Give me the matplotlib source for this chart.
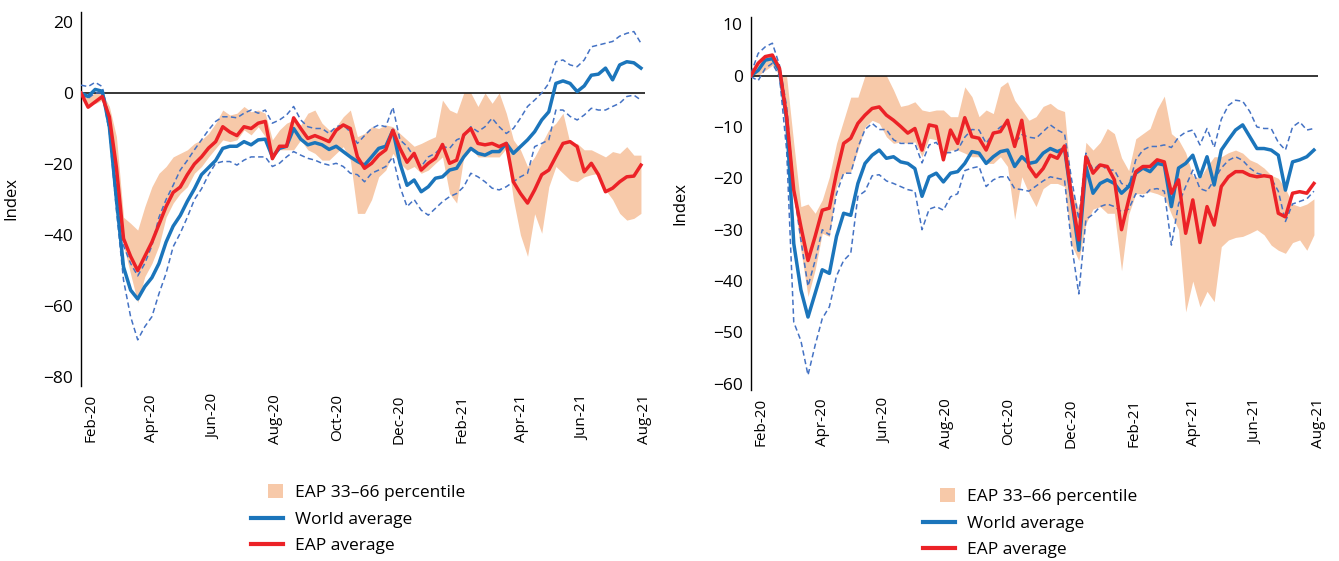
import pandas as pd
import matplotlib
matplotlib.use("Agg")
import matplotlib.pyplot as plt
import matplotlib.patches as mpatches
from matplotlib.legend_handler import HandlerPatch
from matplotlib.lines import Line2D

plt.rcParams["font.family"] = ["Open Sans", "DejaVu Sans"]

# weekly points from mid-Feb 2020
DATES = pd.date_range("2020-02-15", periods=80, freq="7D")
TICKS = pd.date_range("2020-02-25", periods=10, freq=pd.DateOffset(months=2))
TICK_LABELS = [d.strftime("%b-%y") for d in TICKS]

# ---- left panel ----
LEFT_WORLD = [0, -1, 1, 0.5, -9.5, -30, -49, -55.5, -58, -54.5,
              -52, -48, -42, -37.5, -34.5, -30.5, -27, -23, -21, -19,
              -15.6, -15, -15, -13.7, -14.6, -13.2, -13, -18, -15.6, -15,
              -10, -13, -14.6, -14, -14.6, -15.9, -15, -16.5, -18, -19.3,
              -20.3, -18, -15.6, -15, -10.5, -19.8, -26, -24.5, -27.8, -26.4,
              -24, -23.6, -21.7, -21.2, -18, -15.6, -17, -17.5, -16.5, -16.5,
              -14.2, -17, -15.1, -13.2, -10.9, -7.6, -5.3, 2.7, 3.4, 2.7,
              0.4, 2, 5, 5.3, 7, 3.7, 7.9, 8.8, 8.5, 7]
LEFT_EAP = [0, -4, -2.5, -1, -6.7, -21, -41, -46, -50, -46,
            -42, -37, -32, -28, -26.5, -23, -20, -18, -15.5, -13.7,
            -9.5, -11, -12, -9.5, -10, -8.5, -8, -18.5, -15, -15,
            -7, -10, -12.8, -12, -12.8, -13.7, -10.5, -9, -10, -18,
            -21.2, -19.8, -17.5, -16, -10.5, -15.6, -19.5, -17, -21.7, -19.8,
            -18.4, -14.5, -19.8, -18.9, -11.8, -10, -14.2, -14.6, -14.2, -15.1,
            -14.2, -25, -28.3, -31, -27.3, -23, -21.7, -17.9, -14.2, -13.7,
            -15.1, -22.2, -19.8, -23, -27.8, -26.8, -25, -23.6, -23.4, -20.3]
LEFT_WORLD_HI = [2.2, 1.8, 3, 1.8, -7.6, -26, -43, -48, -51.5, -48,
                 -43, -35, -30, -26, -21.7, -19, -16, -13.2, -10.4, -8,
                 -6.7, -6.7, -7, -5.7, -4.8, -5.7, -4.8, -8.5, -7.6, -6.2,
                 -3.8, -7.6, -9.5, -10, -10, -11.4, -9.5, -9, -11, -14.2,
                 -12, -10, -9, -9.5, -4, -13.2, -15, -18, -20.7, -18,
                 -17, -15, -15.6, -13.2, -12.3, -9.5, -10.9, -9.5, -7.1, -9.5,
                 -11.4, -10, -7.1, -3.8, -2, 0, 2.7, 8.8, 9.3, 7.9,
                 7.4, 9.3, 13, 13.5, 14, 14.5, 16, 16.8, 17.3, 14]
LEFT_WORLD_LO = [-0.5, -1.5, 0, 0, -11, -33, -52.7, -63, -69.5, -65.8,
                 -63, -56.5, -50.8, -43.3, -39.5, -35, -30, -27, -23, -19.8,
                 -19.3, -19.3, -20.3, -18.9, -18, -18, -18, -20.7, -19.8, -18,
                 -16.5, -17.5, -18.4, -18.9, -19.8, -20.3, -19.8, -20.7, -22.6, -23,
                 -25, -22.6, -21.7, -20.7, -18, -26.4, -32, -30, -33, -34.4,
                 -32.5, -30.6, -29.2, -28.3, -26.4, -22.6, -23.6, -25, -26.8, -27.3,
                 -26.4, -25, -23.6, -22.6, -15.1, -14.2, -13.2, -4.8, -4.8, -6.6,
                 -7.6, -6.2, -4.3, -4.8, -4.8, -3.8, -2.9, -1, -0.6, -2]
LEFT_BAND_HI = [0, -1, 0, 0, -3.8, -12.3, -35, -36.7, -38.6, -32,
                -26.4, -22.6, -20.7, -18, -17, -16, -14.2, -13.2, -11.4, -8.5,
                -4.8, -6.2, -5.7, -3.8, -5.3, -4.8, -5.7, -13.2, -10.4, -8.5,
                -7.6, -9, -5.7, -4.8, -8.5, -10.4, -9.5, -6.7, -4.8, -12.3,
                -11.4, -9.5, -10, -9, -9.5, -11.4, -13.2, -15, -14.2, -13.2,
                -12.3, -2, -4.8, -5.7, 0, 0, -3.8, 0, -2.9, 0,
                -5.7, -13.2, -16, -20.7, -18, -14.2, -10.4, -8.5, -5.7, -14.2,
                -14.2, -16, -16, -17, -18, -16.5, -17, -15.1, -17.5, -17.5]
LEFT_BAND_LO = [0, -3, -3, -2, -9.5, -26, -43, -51, -59, -51.7,
                -48, -43, -35, -31, -28.3, -26.4, -22.6, -20.7, -18, -15.6,
                -13.2, -13.7, -13.2, -10.4, -11.8, -9.5, -12.3, -18, -16, -16,
                -16, -13.2, -16, -17, -18.9, -18.9, -17, -15.1, -18.9, -33.9,
                -33.9, -30, -23.6, -21.7, -17, -19.8, -21.7, -20.7, -22.6, -21.7,
                -19.8, -18, -28.3, -31, -18, -15, -18, -18, -18, -18,
                -15.6, -30, -40, -46, -34, -39.5, -26.4, -20.7, -22.6, -24.5,
                -25, -23.6, -23, -22.6, -27.3, -30, -33.9, -35.8, -35.3, -33.9]

# ---- right panel ----
RIGHT_WORLD = [0, 1, 3, 3.3, 1, -8.7, -32.7, -41.7, -47, -42.4,
               -37.8, -38.5, -31.3, -26.8, -27.2, -21, -17.1, -15.5, -14.5, -16.1,
               -15.8, -16.8, -17.1, -18.1, -23.5, -19.7, -19, -20.7, -19, -18.7,
               -17.1, -14.8, -15.1, -17.1, -15.8, -14.8, -14.5, -17.7, -15.8, -17.1,
               -16.8, -15.1, -14.2, -14.8, -14.2, -24.2, -34, -17.7, -22.9, -21,
               -20.3, -21, -22.9, -21.6, -19, -18, -18.7, -17.1, -17.4, -25.5,
               -18, -17.1, -15.5, -19.7, -15.8, -21.3, -14.5, -12.5, -10.6, -9.6,
               -11.9, -14.2, -14.2, -14.5, -15.5, -22.3, -16.8, -16.4, -15.8, -14.5]
RIGHT_EAP = [0, 2.4, 3.7, 4, 1.4, -8, -22.3, -29.4, -36, -31.3,
             -26.2, -25.8, -19, -13.2, -12.2, -9.3, -7.7, -6.4, -6.1, -7.7,
             -8.7, -9.9, -11.2, -10.3, -14.5, -9.6, -9.9, -16.4, -10.6, -13.2,
             -8.2, -11.9, -12.2, -14.5, -11.2, -10.9, -8.7, -13.8, -8.7, -17.7,
             -19.7, -18.1, -15.5, -16.1, -13.7, -23.6, -32, -15.8, -19, -17.4,
             -17.7, -20.3, -30, -24.2, -18.7, -17.7, -17.7, -16.4, -16.8, -22.9,
             -20.3, -30.7, -24.2, -32.5, -25.5, -29.1, -21.6, -19.7, -18.7, -18.7,
             -19.4, -19.7, -19.5, -19.7, -26.8, -27.5, -22.9, -22.6, -22.9, -21]
RIGHT_WORLD_HI = [0.4, 4.3, 5.6, 6.3, 2, -6, -22, -32, -41, -36,
                  -30, -31, -23, -19, -19, -14, -10.5, -9.3, -10.5, -10.5,
                  -12.5, -13.2, -13.2, -13.2, -17, -13.5, -13, -15, -15, -14.5,
                  -12, -10.5, -10.6, -13.2, -11.2, -10, -9.3, -13.2, -11.5, -12,
                  -12.2, -10.9, -9.6, -10.6, -11.3, -20.3, -28, -15.1, -18.4, -17.1,
                  -18.4, -18.4, -21, -21.6, -16.4, -14.5, -13.8, -13.8, -13.5, -14,
                  -12, -11, -10.6, -13.5, -10.3, -14, -8.5, -5.8, -4.8, -5,
                  -7, -10, -10.3, -10.3, -13, -14.5, -10, -9, -10.6, -10.3]
RIGHT_WORLD_LO = [-0.2, -1, 1.4, 2.4, -0.2, -14.5, -48, -51.6, -58.3, -52.5,
                  -47.3, -45, -39, -36, -34.6, -23.5, -22.5, -19.5, -19.3, -20.5,
                  -21, -21.6, -22.2, -22.5, -30, -26, -25.5, -26.2, -23.6, -23,
                  -18.5, -18, -17.7, -21.6, -20.3, -19.7, -19.7, -22, -22.2, -22.5,
                  -21.5, -20.5, -19.7, -20, -20.3, -33, -42.5, -28, -27, -25.5,
                  -25, -25.5, -26.5, -26, -23, -23.6, -22.2, -22, -22.5, -33,
                  -25, -21.6, -18.4, -22, -22.5, -20.3, -18, -16.5, -15.8, -16.5,
                  -18, -19, -19.4, -20, -22.5, -28.4, -25, -24.5, -24, -22.5]
RIGHT_BAND_HI = [0, 3, 4, 4, 0, -0.2, -13.2, -25.5, -25, -26.8,
                 -24.2, -19.7, -13.2, -8.7, -4.2, -4.2, 0, 0, 0, 0,
                 -2.8, -6, -5.7, -5.1, -6.7, -7, -6.7, -6.7, -8, -8,
                 -2.2, -4.1, -8, -6.7, -7.4, -2.2, -1.2, -4.8, -6.7, -8.7,
                 -8, -6, -5.4, -6.5, -7, -22, -26, -13, -14.5, -13,
                 -10.3, -11.3, -16, -18.5, -12.3, -11.3, -10.3, -6.5, -4, -11.3,
                 -12.5, -15, -19.5, -20, -17.7, -15.8, -15.8, -15, -14.5, -15.1,
                 -16.4, -17, -18, -19.4, -20, -22, -25, -25.5, -25, -24]
RIGHT_BAND_LO = [0, 0, 1, 2, 0, -8.7, -23.6, -34, -43, -37.8,
                 -30.7, -31.3, -21.6, -19, -18.7, -14.5, -10, -8.7, -9.3, -11.9,
                 -13.2, -12.9, -13.2, -12.9, -15.8, -12.2, -12.5, -15.8, -14.5, -14.5,
                 -15.1, -15.8, -15.8, -17.1, -17.1, -15.8, -17.7, -28, -19.7, -22.9,
                 -25.5, -22, -21, -21, -21.6, -33, -36, -28.8, -26, -25.5,
                 -26.8, -26.8, -38, -27, -23, -23, -22.6, -23, -23.6, -27,
                 -30, -46, -40, -45, -42, -44, -33.3, -32, -31.5, -31.3,
                 -30.7, -30, -31, -33, -34, -34.6, -32.5, -32, -34, -31]

LEFT_YTICKS = [20, 0, -20, -40, -60, -80]
RIGHT_YTICKS = [10, 0, -10, -20, -30, -40, -50, -60]
LEGEND_LABELS = ["EAP 33\u201366 percentile", "World average", "EAP average"]

PEACH = "#F7C9A9"
BLUE = "#1B75BB"
RED = "#EC2227"
DASH = "#4472C4"

W, H = 1339, 561


def square(legend, orig_handle, xdescent, ydescent, width, height, fontsize):
    s = 0.85 * fontsize
    return mpatches.Rectangle((width - s - xdescent, (height - s) / 2 - ydescent), s, s)


def panel(fig, rect, world, eap, hi, lo, band_hi, band_lo, ylim, yticks, leg_xy):
    ax = fig.add_axes(rect)
    ax.fill_between(DATES, band_lo, band_hi, color=PEACH, lw=0, zorder=1)
    ax.axhline(0, color="black", lw=1.1, zorder=2)
    ax.plot(DATES, hi, color=DASH, lw=1.1, ls=(0, (3.5, 2.2)), zorder=3)
    ax.plot(DATES, lo, color=DASH, lw=1.1, ls=(0, (3.5, 2.2)), zorder=3)
    ax.plot(DATES, world, color=BLUE, lw=2.5, zorder=4)
    ax.plot(DATES, eap, color=RED, lw=2.5, zorder=5)

    ax.set_xlim(DATES[0], DATES[0] + pd.Timedelta(days=556))
    ax.set_ylim(*ylim)
    ax.set_yticks(yticks)
    ax.set_xticks(TICKS)
    ax.set_xticklabels(TICK_LABELS, rotation=90, fontsize=11)
    ax.tick_params(axis="y", length=0, pad=6, labelsize=12.5)
    ax.tick_params(axis="x", length=0, pad=6)
    for s in ("top", "right", "bottom"):
        ax.spines[s].set_visible(False)
    ax.spines["left"].set_linewidth(1.0)
    ax.set_ylabel("Index", fontsize=12)
    ax.yaxis.set_label_coords(-0.11, 0.5)

    handles = [mpatches.Patch(facecolor=PEACH, edgecolor="none"),
               Line2D([], [], color=BLUE, lw=3),
               Line2D([], [], color=RED, lw=3)]
    ax.legend(handles, LEGEND_LABELS, loc="upper left",
              bbox_to_anchor=(leg_xy[0] / W, 1 - leg_xy[1] / H),
              bbox_transform=fig.transFigure, frameon=False, fontsize=12.5,
              handlelength=1.85, handletextpad=0.7, labelspacing=0.6,
              borderpad=0, borderaxespad=0,
              handler_map={mpatches.Patch: HandlerPatch(patch_func=square)})
    return ax


fig = plt.figure(figsize=(W / 100, H / 100), dpi=100)
panel(fig, [81 / W, 1 - 386 / H, 564 / W, 374 / H],
      LEFT_WORLD, LEFT_EAP, LEFT_WORLD_HI, LEFT_WORLD_LO, LEFT_BAND_HI, LEFT_BAND_LO,
      (-82.5, 22.8), LEFT_YTICKS, (251, 485))
panel(fig, [751 / W, 1 - 390 / H, 567 / W, 373 / H],
      RIGHT_WORLD, RIGHT_EAP, RIGHT_WORLD_HI, RIGHT_WORLD_LO, RIGHT_BAND_HI, RIGHT_BAND_LO,
      (-61.2, 11.4), RIGHT_YTICKS, (923, 489))
fig.savefig("out.png", dpi=100)
